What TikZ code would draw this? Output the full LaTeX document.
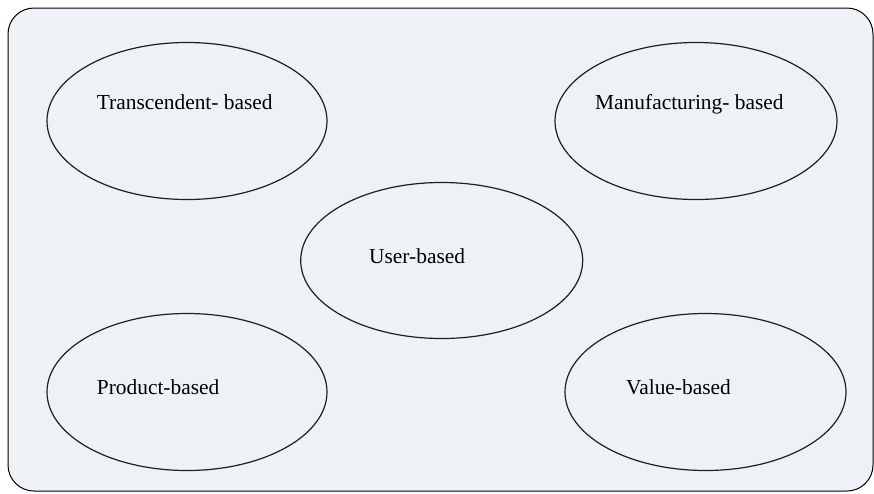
\documentclass[tikz,border=0pt]{standalone}
\usepackage{fontspec}
\setmainfont{Liberation Serif}
\usetikzlibrary{shapes.geometric}
\definecolor{panelfill}{HTML}{EEF2F7}
\definecolor{edgegray}{HTML}{1E1E1E}
\begin{document}
\begin{tikzpicture}[x=1pt,y=-1pt,
  panel/.style={draw=black,line width=1pt,fill=panelfill,rounded corners=26pt},
  oval/.style={ellipse,draw=edgegray,line width=1.2pt,inner sep=0pt,
    minimum width=280pt,minimum height=157pt},
  caption/.style={anchor=base west,inner sep=0pt,font=\fontsize{21.4}{24}\selectfont,text=black}]
  \useasboundingbox (0,0) rectangle (874,493);
  \draw[panel] (8,8) rectangle (873,491);

  % the five ovals
  \node[oval] (trans) at (187,121) {};
  \node[oval,minimum width=282pt] (manu) at (696,121) {};
  \node[oval,minimum width=282pt,minimum height=156pt] (user) at (441.7,260.5) {};
  \node[oval] (prod) at (187,392) {};
  \node[oval,minimum width=281pt] (value) at (705.5,392) {};

  % their captions
  \node[caption] (transT) at (96.7,109.3) {Transcendent- based};
  \node[caption] (manuT) at (595,109.3) {Manufacturing- based};
  \node[caption] (userT) at (369,263.3) {User-based};
  \node[caption] (prodT) at (96.7,394.3) {Product-based};
  \node[caption] (valueT) at (626,394.3) {Value-based};
\end{tikzpicture}
\end{document}
